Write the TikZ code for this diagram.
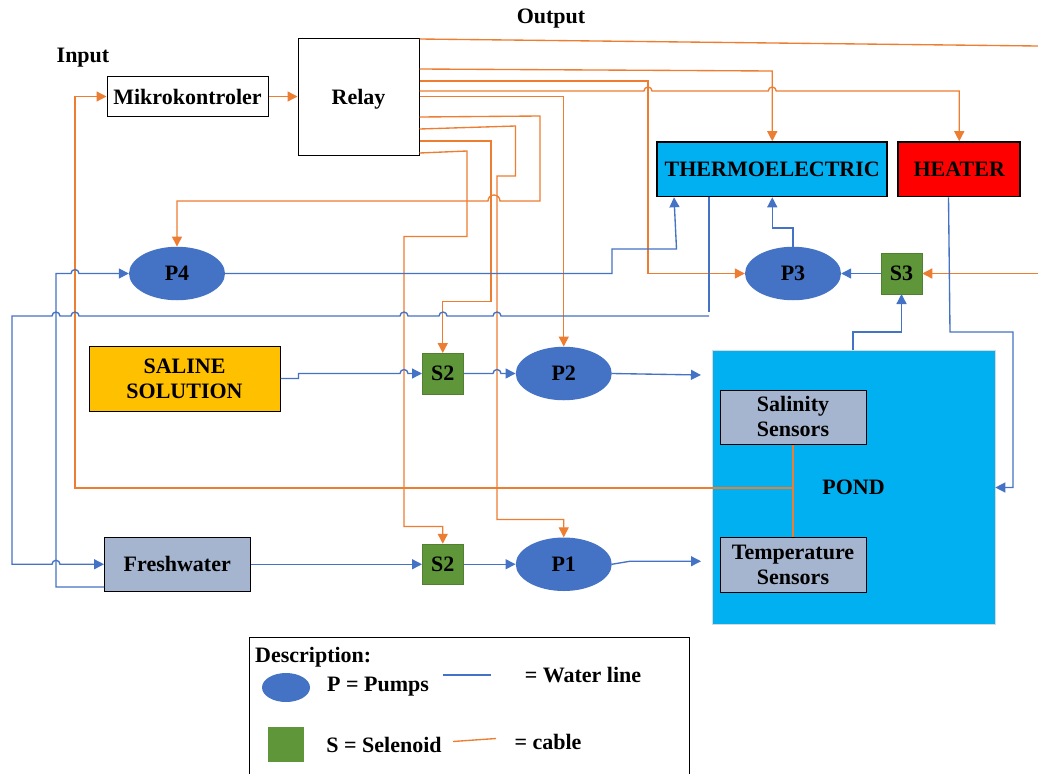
\documentclass[tikz,border=0pt]{standalone}
\usepackage{fontspec}
\setmainfont{Liberation Serif}
\usetikzlibrary{shapes.geometric,arrows.meta}
\definecolor{cable}{HTML}{ED7D31}
\definecolor{water}{HTML}{4472C4}
\definecolor{sel}{HTML}{5F9639}
\definecolor{cyanb}{HTML}{00B0F0}
\definecolor{greyb}{HTML}{A5B5CF}
\definecolor{amber}{HTML}{FFC000}
\def\hopr#1#2{-- ({#1-4},#2) arc[start angle=180,end angle=0,radius=4pt]}
\def\hopl#1#2{-- ({#1+4},#2) arc[start angle=0,end angle=180,radius=4pt]}
\def\hopw#1#2{-- ({#1+6},#2) arc[start angle=0,end angle=180,radius=6pt]}
\tikzset{
  txt/.style={font=\fontsize{22}{25}\selectfont\bfseries,align=center,inner sep=0pt,text=black},
  boxn/.style={txt,rectangle,draw=black,line width=1pt,minimum width=#1},
  boxn/.default=10pt,
  pump/.style={txt,ellipse,fill=water,draw=none,minimum width=96pt,minimum height=53.5pt},
  solen/.style={txt,rectangle,fill=sel,draw=sel!85!black,line width=.5pt,minimum width=41pt,minimum height=40.5pt},
  cablew/.style={draw=cable,line width=1.35pt},
  waterw/.style={draw=water,line width=1.35pt},
  tip/.style={-{Triangle[length=10pt,width=10pt]}}
}
\begin{document}
\begin{tikzpicture}[x=1pt,y=-1pt]
\useasboundingbox (0,0) rectangle (1038,774);
\fill[white] (0,0) rectangle (1038,774);

% pond first (underneath)
\node[txt,rectangle,fill=cyanb,draw=black!15,line width=.6pt,minimum width=282.5pt,minimum height=274pt] (pond) at (853.75,487) {};
\node[txt] (pondt) at (853.5,487) {POND};

% boxes
\node[boxn=161pt,minimum height=40pt] (mikro) at (187.5,96.5) {Mikrokontroler};
\node[boxn=121pt,minimum height=117pt,text depth=0pt] (relay) at (358.5,96.5) {\raisebox{-0.5pt}{Relay}};
\node[boxn=230pt,minimum height=54.5pt,fill=cyanb,line width=1.6pt] (therm) at (772.25,169.25) {THERMOELECTRIC};
\node[boxn=122pt,minimum height=54.5pt,fill=red,line width=1.6pt] (heater) at (959.25,169.25) {HEATER};
\node[boxn=191pt,minimum height=65pt,fill=amber] (saline) at (184.5,378.5) {SALINE\\SOLUTION};
\node[boxn=145.5pt,minimum height=54pt,fill=greyb] (fresh) at (177.25,564.25) {Freshwater};
\node[boxn=146pt,minimum height=54pt,fill=greyb] (salin) at (793,417) {\raisebox{0.7pt}{Salinity}\\\raisebox{0.7pt}{Sensors}};
\node[boxn=146pt,minimum height=55pt,fill=greyb] (temp) at (793,564.5) {Temperature\\Sensors};

% pumps and solenoids
\node[pump] (p4) at (177,273.5) {P4};
\node[pump] (p3) at (793,273.5) {P3};
\node[pump] (p2) at (563.75,373.5) {P2};
\node[pump] (p1) at (563.75,564.25) {P1};
\node[solen] (s3) at (901.5,273.5) {S3};
\node[solen] (s2a) at (442.75,373.5) {S2};
\node[solen] (s2b) at (442.75,564.25) {S2};

% free ends
\coordinate (edgea) at (1038,46);
\coordinate (edgeb) at (1038,273.5);
\coordinate (pin2) at (701,375);
\coordinate (pin1) at (701,561.25);
\coordinate (jun) at (793,488);

% cables
\draw[cablew,tip] (mikro.east) -- (relay.west);
\draw[cablew,tip] (jun) -- (75,488) -- (75,96.5) -- (mikro.west);
\draw[cablew] (salin.south) -- (temp.north);
\draw[cablew] (relay.east |- 0,39) -- (edgea);
\draw[cablew,tip] (relay.east |- 0,69) -- (772.25,71) -- (therm.north);
\draw[cablew,tip] (relay.east |- 0,81) -- (648,81) -- (648,273.5) -- (p3.west);
\draw[cablew,tip] (relay.east |- 0,91) \hopr{648}{91} \hopr{772.25}{91} -- (959.25,91) -- (heater.north);
\draw[cablew,tip] (relay.east |- 0,96.5) -- (563.75,96.5) -- (p2.north);
\draw[cablew,tip] (relay.east |- 0,117) -- (540,116) -- (540,201) \hopw{494}{201} -- (177,201) -- (p4.north);
\draw[cablew,tip] (relay.east |- 0,129) -- (515.5,126) -- (515.5,176) -- (497,176) -- (497,519.5) -- (563.75,519.5) -- (p1.north);
\draw[cablew,tip] (relay.east |- 0,141) -- (491,141) -- (491,301.5) -- (442.75,301.5) -- (s2a.north);
\draw[cablew,tip] (relay.east |- 0,153) -- (467,151) -- (467,236.5) -- (404,236.5) -- (404,526.5) -- (442.75,526.5) -- (s2b.north);
\draw[cablew,tip] (edgeb) -- (s3.east);

% water lines
\draw[waterw,tip] (fresh.west |- 0,587) -- (56,587) -- (56,273.5) \hopr{75}{273.5} -- (p4.west);
\draw[waterw,tip] (p4.east) -- (612,273.5) -- (612,249) -- (676.5,249) -- (therm.south -| 674,0);
\draw[waterw] (therm.south -| 709,0) -- (709,312);
\draw[waterw,tip] (709,316) \hopl{497}{316} \hopl{443}{316} \hopl{404}{316} \hopl{75}{316} \hopl{56}{316} -- (12,316) -- (12,564.25) \hopr{56}{564.25} -- (fresh.west);
\draw[waterw,tip] (p3.north) -- (793,228) -- (772.25,228) -- (therm.south);
\draw[waterw,tip] (s3.west) -- (p3.east);
\draw[waterw,tip] (pond.north -| 853,0) -- (853,332) -- (901.5,332) -- (s3.south);
\draw[waterw,tip] (heater.south -| 948.5,0) -- (950,332) -- (1013,332) -- (1013,487.5) -- (pond.east |- 0,487.5);
\draw[waterw,tip] (saline.east) -- (298.5,378.5) -- (298.5,373.5) \hopr{404}{373.5} -- (s2a.west);
\draw[waterw,tip] (s2a.east) \hopr{497}{373.5} -- (p2.west);
\draw[waterw,tip] (p2.east) -- (pin2);
\draw[waterw,tip] (fresh.east) -- (s2b.west);
\draw[waterw,tip] (s2b.east) -- (p1.west);
\draw[waterw,tip] (p1.east) -- (630,561.25) -- (pin1);

% labels
\node[txt] (lin) at (83,57.5) {Input};
\node[txt] (lout) at (551,18.5) {Output};

% legend
\draw[black,line width=1pt] (249.5,774) -- (249.5,637.5) -- (689,637.5) -- (689,774);
\node[txt,anchor=west] (ldesc) at (255,657) {Description:};
\node[ellipse,fill=water,minimum width=48pt,minimum height=29pt,inner sep=0pt] (lp) at (286,687.5) {};
\node[rectangle,fill=sel,minimum width=36pt,minimum height=35pt,inner sep=0pt] (ls) at (286,744.5) {};
\node[txt] (lpt) at (378,686.5) {P = Pumps};
\node[txt] (lst) at (384,745) {S = Selenoid};
\node[txt] (lwt) at (583,675) {= Water line};
\node[txt] (lct) at (548,742) {= cable};
\coordinate (wa) at (443,675);
\coordinate (wb) at (491,675);
\coordinate (ca) at (453,741.5);
\coordinate (cb) at (496,738.5);
\draw[waterw] (wa) -- (wb);
\draw[cablew] (ca) -- (cb);
\end{tikzpicture}
\end{document}
